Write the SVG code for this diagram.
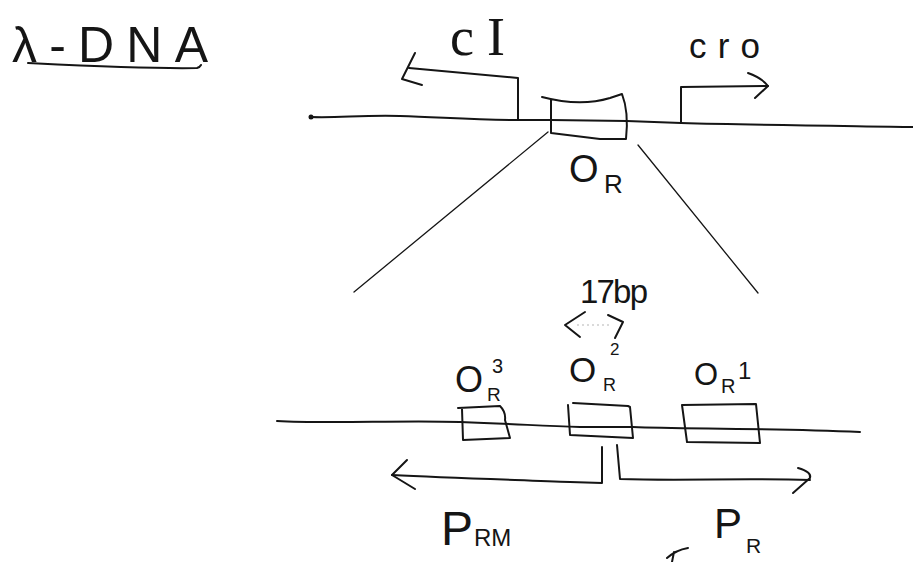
<svg xmlns="http://www.w3.org/2000/svg" width="913" height="562" viewBox="0 0 913 562">
<style>
.ln{fill:none;stroke:#151515;stroke-width:2;stroke-linecap:round;stroke-linejoin:round}
.thin{stroke-width:1.3}
.faint{fill:none;stroke:#b5b5b5;stroke-width:1;stroke-dasharray:2 3}
.t{font-family:"Liberation Sans",Arial,sans-serif;fill:#151515}
.s{font-family:"Liberation Serif","Times New Roman",serif;fill:#151515}
</style>
<rect width="913" height="562" fill="#ffffff"/>
<g id="title">
<text class="t" x="12" y="62" font-size="50" textLength="196" lengthAdjust="spacing">λ-DNA</text>
<path class="ln" d="M28,63 C90,66 150,69 197,68 Q200,67 201,65"/>
</g>
<g id="connectors">
<path class="ln" d="M311,117 C340,118 360,115 400,116 S470,120 518,120 L551,120 L627,121 L681,123 C750,125 850,126 913,127"/>
<circle cx="311" cy="117" r="2.5" fill="#151515"/>
<path class="ln" d="M518,120 L518,78 L409,68"/>
<path class="ln" d="M415,53 L402,79 L422,85"/>
<path class="ln" d="M681,123 L681,87 L768,86"/>
<path class="ln" d="M748,73 Q762,78 768,86 L755,98"/>
<path class="ln thin" d="M548,132 L354,292"/>
<path class="ln thin" d="M638,145 L758,293"/>
<path class="ln" d="M277,421 C330,424 400,420 460,422 S540,426 580,427 L633,427 C680,429 760,428 860,432"/>
<path class="ln" d="M602,447 L602,483 L570,482 C520,480 450,478 392,475"/>
<path class="ln" d="M407,460 L392,475 L415,489"/>
<path class="ln" d="M617,445 L620,479 C680,481 740,478 810,480"/>
<path class="ln" d="M798,468 Q812,472 810,478 L793,493"/>
<path class="faint" d="M577,325 L610,325"/>
<path class="ln" d="M585,312 L565,325 L580,337"/>
<path class="ln" d="M608,315 L623,322 L615,338"/>
<path class="ln" d="M688,548 Q676,550 667,558 M674,552 L672,562"/>
</g>
<g id="cI">
<text class="s" x="450" y="55" font-size="54" textLength="55" lengthAdjust="spacing">cI</text>
</g>
<g id="cro">
<text class="t" x="689" y="58" font-size="35" textLength="71" lengthAdjust="spacing">cro</text>
</g>
<g id="OR">
<path class="ln" d="M542,97 Q580,107 610,98 L622,94 Q629,112 626,139 L600,139 L551,133 L551,100"/>
<text class="t" x="569" y="182" font-size="38">O</text>
<text class="t" x="604" y="193" font-size="26">R</text>
</g>
<g id="OR3">
<path class="ln" d="M458,408 L500,406 Q506,412 505,420 L510,438 L463,440 L462,409"/>
<text class="t" x="455" y="392" font-size="36">O</text>
<text class="t" x="487" y="401" font-size="19">R</text>
<text class="t" x="492" y="373" font-size="20">3</text>
</g>
<g id="OR2">
<path class="ln" d="M573,403 L628,406 L630,407 L633,438 L570,435 L568,405"/>
<text class="t" x="569" y="382" font-size="35">O</text>
<text class="t" x="603" y="391" font-size="18">R</text>
<text class="t" x="610" y="355" font-size="17">2</text>
</g>
<g id="OR1">
<path class="ln" d="M682,405 L756,404 L760,443 L687,442 Z"/>
<text class="t" x="694" y="385" font-size="31">O</text>
<text class="t" x="721" y="393" font-size="20">R</text>
<text class="t" x="738" y="379" font-size="24">1</text>
</g>
<g id="spacing">
<text class="t" x="580" y="303" font-size="33" textLength="68" lengthAdjust="spacing">17bp</text>
</g>
<g id="PRM">
<text class="t" x="441" y="545" font-size="48">P</text>
<text class="t" x="474" y="546" font-size="24">RM</text>
</g>
<g id="PR">
<text class="t" x="714" y="538" font-size="42">P</text>
<text class="t" x="746" y="553" font-size="21">R</text>
</g>
</svg>
